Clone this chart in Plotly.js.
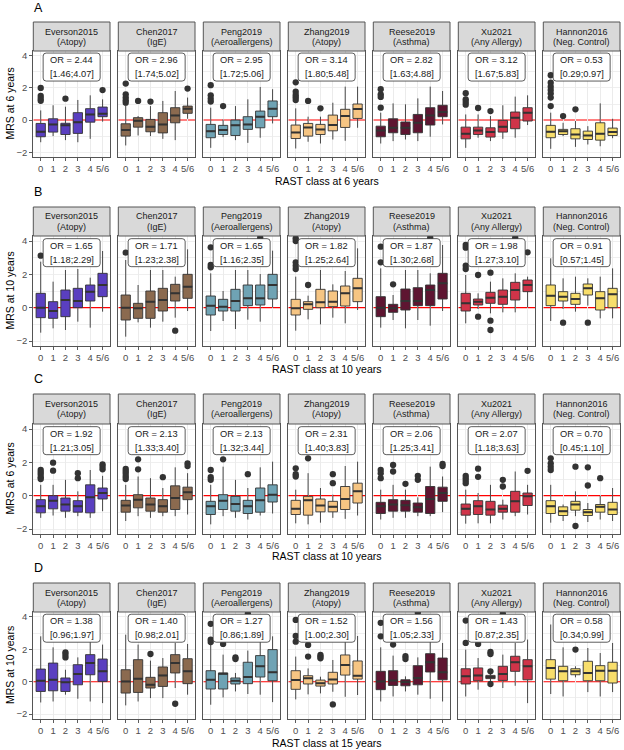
<!DOCTYPE html>
<html><head><meta charset="utf-8">
<script src="https://cdn.plot.ly/plotly-3.0.1.min.js"></script>
<style>html,body{margin:0;padding:0;background:#fff}</style>
</head><body><div id="chart" style="width:624px;height:750px"></div>
<script>
// ---------------- DATA ----------------
const categories = ['0','1','2','3','4','5/6'];
const studies = ['Everson2015','Chen2017','Peng2019','Zhang2019','Reese2019','Xu2021','Hannon2016'];
const phenotypes = ['(Atopy)','(IgE)','(Aeroallergens)','(Atopy)','(Asthma)','(Any Allergy)','(Neg. Control)'];
const rowLetters = ['A','B','C','D'];
const yTitles = ['MRS at 6 years','MRS at 10 years','MRS at 6 years','MRS at 10 years'];
const xTitles = ['RAST class at 6 years','RAST class at 10 years','RAST class at 10 years','RAST class at 15 years'];
const refLine = 0;

const orA = ['2.44','2.96','2.95','3.14','2.82','3.12','0.53'];
const ciA = ['[1.46;4.07]','[1.74;5.02]','[1.72;5.06]','[1.80;5.48]','[1.63;4.88]','[1.67;5.83]','[0.29;0.97]'];
const orB = ['1.65','1.71','1.65','1.82','1.87','1.98','0.91'];
const ciB = ['[1.18;2.29]','[1.23;2.38]','[1.16;2.35]','[1.25;2.64]','[1.30;2.68]','[1.27;3.10]','[0.57;1.45]'];
const orC = ['1.92','2.13','2.13','2.31','2.06','2.07','0.70'];
const ciC = ['[1.21;3.05]','[1.33;3.40]','[1.32;3.44]','[1.40;3.83]','[1.25;3.41]','[1.18;3.63]','[0.45;1.10]'];
const orD = ['1.38','1.40','1.27','1.52','1.56','1.43','0.58'];
const ciD = ['[0.96;1.97]','[0.98;2.01]','[0.86;1.89]','[1.00;2.30]','[1.05;2.33]','[0.87;2.35]','[0.34;0.99]'];

// Row A: MRS at 6 years vs RAST class at 6 years
const A_lo = [[-1.38,-1.0,-1.25,-1.38,-1.17,-0.1],[-1.58,-0.96,-1.0,-1.17,-1.25,0.08],[-1.73,-1.06,-1.25,-1.42,-1.1,-0.21],[-1.77,-1.35,-1.46,-1.21,-1.29,-0.48],[-1.46,-1.31,-1.21,-1.31,-1.04,-0.27],[-1.73,-1.1,-1.31,-1.17,-1.1,-0.31],[-1.79,-1.0,-1.67,-1.52,-1.63,-1.13]];
const A_q1 = [[-1.04,-0.75,-0.9,-0.83,-0.13,0.21],[-1.0,-0.44,-0.73,-0.8,-0.17,0.42],[-1.1,-0.9,-0.96,-0.58,-0.48,0.21],[-1.15,-1.0,-0.9,-0.67,-0.46,0.1],[-1.04,-0.79,-0.9,-0.79,-0.31,0.21],[-1.17,-0.9,-1.06,-0.75,-0.54,-0.06],[-1.1,-0.9,-1.17,-1.21,-1.25,-0.96]];
const A_med = [[-0.73,-0.27,-0.33,-0.13,0.35,0.4],[-0.62,-0.05,-0.42,-0.27,0.29,0.71],[-0.69,-0.62,-0.33,-0.27,0.21,0.71],[-0.77,-0.46,-0.58,-0.31,0.25,0.69],[-0.65,-0.48,-0.48,-0.17,0.29,0.5],[-0.85,-0.65,-0.75,-0.42,0.15,0.46],[-0.73,-0.69,-0.9,-0.96,-0.85,-0.75]];
const A_q3 = [[-0.21,0.08,-0.2,0.46,0.71,0.81],[-0.23,0.15,0.04,0.46,0.77,0.87],[-0.27,-0.33,0,0.21,0.56,1.19],[-0.31,-0.21,-0.27,0.31,0.67,1.0],[-0.38,0.08,-0.12,0.35,0.77,0.92],[-0.44,-0.44,-0.48,-0.02,0.5,0.77],[-0.33,-0.58,-0.54,-0.69,-0.17,-0.5]];
const A_hi = [[0.6,0.92,0.83,1.25,1.54,1.29],[0.92,0.25,0.87,1.19,1.81,1.4],[0.77,0.04,0.87,1.29,2.06,1.92],[0.73,0.21,0.21,1.08,2.08,2.08],[0.46,1.04,0.98,1.35,2.08,1.81],[0.35,0.35,0.25,0.92,1.46,1.54],[0.46,-0.17,-0.06,-0.38,1.04,0.08]];
const A_out = [
  [[0,2.0],[0,1.5],[0,1.33],[0,1.2],[2,1.33],[5,1.87]],
  [[0,2.27],[0,1.6],[0,1.4],[0,1.23],[0,1.08],[1,1.19],[2,1.15],[5,1.96]],
  [[0,2.17],[0,1.54],[0,1.33],[0,1.15],[1,0.87]],
  [[0,2.35],[0,1.77],[0,1.56],[0,1.42],[0,1.25],[1,1.19],[2,0.73]],
  [[0,1.92],[0,1.6],[0,1.44],[0,0.77]],
  [[0,1.67],[0,1.29],[0,1.13],[0,0.96],[1,0.75],[2,0.56]],
  [[0,2.79],[0,2.33],[0,2.08],[0,1.87],[0,1.65],[0,1.4],[0,0.87],[1,0.25],[2,0.67]]];

// Row B: MRS at 10 years vs RAST class at 10 years
const B_lo = [[-1.5,-1.24,-1.34,-0.84,-1.2,-0.24],[-1.74,-0.88,-1.2,-0.84,-0.6,-0.2],[-1.4,-0.8,-1.28,-0.72,-0.84,0],[-1.38,-0.7,-1.0,-0.6,-0.94,-0.14],[-1.2,-0.74,-1.24,-0.74,-1.08,-0.2],[-0.94,-0.08,-0.34,-0.28,-0.28,0],[-0.8,-0.08,-0.24,0.12,-0.64,-0.64]];
const B_q1 = [[-0.6,-0.64,-0.54,0,0.4,0.66],[-0.74,-0.64,-0.64,-0.2,0.4,0.56],[-0.44,-0.2,-0.2,0.12,0.16,0.52],[-0.44,-0.1,0,0.06,0.1,0.36],[-0.54,-0.28,-0.14,0.12,0.12,0.52],[-0.2,0.16,0.26,0.2,0.46,0.96],[0.12,0.4,0.2,0.76,-0.14,0]];
const B_med = [[0,-0.2,0.46,0.4,0.96,1.36],[0,-0.04,0.36,0.46,0.86,1.26],[0.12,0.06,0.4,0.56,0.56,1.36],[-0.04,0.2,0.32,0.36,0.86,1.16],[0,-0.04,0.4,0.4,1.06,1.46],[0.26,0.36,0.6,0.66,1.06,1.36],[0.72,0.66,0.52,1.16,0.56,0.8]];
const B_q3 = [[0.86,0.36,1.06,1.16,1.36,2.06],[0.76,0.26,1.0,1.16,1.4,2.0],[0.7,0.5,1.1,1.36,1.36,2.0],[0.5,0.36,1.1,1.0,1.3,1.76],[0.66,0.2,1.12,1.2,1.36,2.06],[0.86,0.52,0.92,1.06,1.52,1.66],[1.36,0.96,0.86,1.42,0.96,1.16]];
const B_hi = [[2.76,1.56,2.26,2.32,1.8,3.4],[2.86,1.36,2.26,2.26,1.86,3.5],[2.06,1.0,2.26,2.26,2.02,3.42],[1.86,0.72,2.26,1.4,2.2,3.56],[2.36,0.76,2.26,2.26,2.06,3.76],[1.96,0.86,1.56,1.76,2.06,1.86],[2.96,1.76,1.86,1.76,1.86,2.36]];
const B_out = [
  [[0,3.12]],
  [[0,3.3],[4,-1.38]],
  [[0,3.62],[0,2.56],[0,2.42],[4,4.2]],
  [[0,4.16],[0,4.0],[0,2.72],[0,2.52],[0,2.32],[1,1.36]],
  [[0,3.66],[0,2.72],[1,1.4],[4,4.2]],
  [[0,3.76],[0,3.6],[0,2.52],[0,2.32],[1,1.96],[1,-0.54],[2,2.1],[2,-0.78],[2,-1.34],[4,4.2],[5,3.32]],
  [[1,-0.9],[3,-0.9]]];

// Row C: MRS at 6 years vs RAST class at 10 years
const C_lo = [[-1.33,-1.19,-1.33,-1.23,-1.33,-0.93],[-1.52,-1.23,-1.33,-1.23,-1.23,-1.13],[-1.72,-1.23,-1.33,-1.43,-1.19,-1.07],[-1.66,-1.72,-1.62,-1.33,-1.39,-1.19],[-1.43,-1.33,-1.33,-1.23,-1.23,-0.99],[-1.68,-1.66,-1.66,-1.43,-1.23,-1.13],[-1.62,-1.52,-1.23,-1.58,-1.43,-1.52]];
const C_q1 = [[-1.03,-0.79,-0.93,-0.99,-1.03,-0.2],[-0.99,-0.73,-0.93,-0.99,-0.83,-0.24],[-1.13,-0.83,-0.93,-1.07,-0.99,-0.38],[-1.13,-1.17,-0.97,-0.97,-0.83,-0.44],[-1.07,-0.93,-0.93,-0.99,-1.07,-0.34],[-1.17,-1.13,-1.17,-0.99,-0.99,-0.59],[-1.07,-1.19,-0.87,-1.19,-0.99,-1.13]];
const C_med = [[-0.63,-0.3,-0.53,-0.63,-0.1,0.16],[-0.59,-0.24,-0.53,-0.63,-0.14,0.2],[-0.63,-0.3,-0.5,-0.63,-0.28,0.06],[-0.79,-0.28,-0.59,-0.67,-0.2,0.26],[-0.63,-0.53,-0.57,-0.69,-0.2,0.16],[-0.79,-0.63,-0.83,-0.79,-0.34,-0.04],[-0.63,-0.93,-0.53,-0.99,-0.67,-0.83]];
const C_q3 = [[-0.24,0,-0.14,-0.3,0.65,0.46],[-0.28,0.06,-0.14,-0.24,0.59,0.51],[-0.34,0.06,-0.04,-0.28,0.46,0.65],[-0.28,-0.04,-0.2,-0.34,0.55,0.75],[-0.4,-0.24,-0.28,-0.44,0.55,0.51],[-0.5,-0.3,-0.34,-0.57,0.26,0.16],[-0.3,-0.67,-0.34,-0.83,-0.53,-0.4]];
const C_hi = [[0.65,0.65,0.95,0.26,1.54,1.19],[0.65,1.15,1.05,0.46,1.7,1.35],[0.65,1.74,0.95,0.46,1.7,2.04],[0.36,1.35,0.46,0.06,1.78,2.04],[0.36,0.65,0.36,-0.1,1.74,1.15],[0.36,0.16,0.65,-0.24,1.45,0.65],[0.65,-0.53,0.26,-0.44,0,0.46]];
const C_out = [
  [[0,1.54],[0,1.39],[0,1.25],[0,1.1],[0,1.0],[1,1.98],[1,1.5],[3,1.35],[3,1.05],[5,1.88],[5,1.74],[5,1.58]],
  [[0,1.6],[0,1.45],[0,1.31],[0,1.15],[0,1.0],[1,2.18],[1,1.58],[3,1.11],[5,1.94],[5,1.78]],
  [[0,1.54],[0,1.11],[0,0.95],[1,2.18],[3,1.29]],
  [[0,1.64],[0,1.29],[0,1.15],[1,2.24],[3,1.29],[3,0.75]],
  [[0,1.54],[0,1.35],[0,1.05],[1,1.84],[1,1.45],[2,0.71],[3,1.19],[3,0.95],[5,1.9],[5,1.78]],
  [[0,1.19],[0,1.05],[0,0.89],[0,0.75],[1,1.62],[1,1.13],[3,0.95],[3,0.55],[5,1.49]],
  [[0,2.24],[0,1.94],[0,1.74],[0,1.54],[2,1.74],[2,-1.82],[3,1.7],[3,0.61],[4,1.05]]];

// Row D: MRS at 10 years vs RAST class at 15 years
const D_lo = [[-1.28,-1.22,-0.8,-1.05,-1.22,-1.32],[-1.46,-1.22,-1.01,-1.01,-0.39,-0.8],[-1.42,-0.97,-0.6,-0.76,-0.8,-1.26],[-1.09,-0.78,-0.72,-0.62,-0.93,-0.82],[-1.22,-0.91,-0.6,-0.8,-1.05,-1.22],[-0.91,-0.49,0.02,-0.39,-0.25,-1.32],[-0.76,-0.91,0.27,-0.64,-0.91,-0.64]];
const D_q1 = [[-0.6,-0.56,-0.6,-0.19,0.43,0.02],[-0.7,-0.66,-0.39,-0.29,0.54,-0.12],[-0.45,-0.45,-0.14,-0.12,0.29,0.06],[-0.47,-0.14,-0.27,-0.14,0.41,0.16],[-0.49,-0.23,-0.25,-0.19,0.6,0.12],[-0.14,0.06,0.19,0.08,0.64,0.12],[0.16,0.06,0.43,0.06,0.06,-0.08]];
const D_med = [[0.06,0.12,-0.04,0.47,1.15,0.64],[0.02,0.19,-0.19,0.39,1.15,0.64],[0.12,0.49,0.06,0.29,0.95,0.58],[0.1,0.21,-0.1,0.14,1.03,0.37],[0.02,0.08,-0.02,0.23,1.2,0.58],[0.33,0.39,0.29,0.47,1.2,0.95],[0.85,0.64,0.64,0.54,0.68,0.68]];
const D_q3 = [[0.78,1.15,0.23,1.05,1.67,1.4],[0.74,1.36,0.27,0.91,1.67,1.42],[0.68,0.54,0.23,1.2,1.61,1.98],[0.68,0.37,0.1,0.58,1.65,1.28],[0.64,0.68,0.12,0.99,1.73,1.46],[0.8,0.85,0.39,0.95,1.57,1.36],[1.36,0.95,0.8,1.26,0.99,1.2]];
const D_hi = [[2.8,2.12,0.74,1.5,2.45,2.29],[2.9,2.29,1.3,1.46,2.39,2.33],[2.39,1.67,0.54,1.92,2.6,2.8],[1.55,0.82,0.31,1.34,2.78,2.82],[2.12,1.61,0.33,1.5,2.6,2.39],[1.98,1.46,0.54,1.67,2.39,2.6],[3.53,2.12,0.95,2.08,1.77,2.39]];
const D_out = [
  [[2,1.81],[2,1.67],[2,1.5]],
  [[2,1.71],[4,-1.36]],
  [[0,3.57],[0,2.6],[0,2.45],[1,2.33],[2,1.5],[2,1.4],[3,4.19]],
  [[0,3.81],[0,2.82],[0,2.47],[1,2.68],[1,2.27],[1,1.55],[2,1.65],[2,1.55],[2,1.44],[3,-1.4]],
  [[0,3.63],[0,2.8],[1,2.29],[2,1.57],[2,1.4],[3,4.25]],
  [[0,3.77],[0,2.39],[1,2.33],[2,1.84],[2,1.71],[2,0.64],[2,-0.14],[3,4.19]],
  [[2,1.98]]];

// ---------------- STYLE / GEOMETRY ----------------
const studyColors = ['#5A3FC0','#8B6A4F','#6FA3B4','#F6C583','#5E1531','#D03449','#F8DE6B'];
const W = 624, H = 750;
const FONT = 'Liberation Sans, Arial, sans-serif';
const panelLeft0 = 33.3, panelStep = 85.0, panelW = 76.7;
const rowGeom = [
  {stripTop: 22,  plotTop: 51,  plotBot: 157, line1: 32,    line2: 42,    letterY: 8,   titleY: 180.5},
  {stripTop: 207, plotTop: 236, plotBot: 346, line1: 216.5, line2: 226.5, letterY: 192, titleY: 368.5},
  {stripTop: 394, plotTop: 424, plotBot: 534, line1: 404.3, line2: 414.3, letterY: 379, titleY: 556},
  {stripTop: 583, plotTop: 612, plotBot: 719, line1: 592.7, line2: 603.3, letterY: 568, titleY: 742.5}
];
const X = px => px / W;
const Y = py => 1 - py / H;

const rows = [
  {lo: A_lo, q1: A_q1, med: A_med, q3: A_q3, hi: A_hi, out: A_out, or: orA, ci: ciA},
  {lo: B_lo, q1: B_q1, med: B_med, q3: B_q3, hi: B_hi, out: B_out, or: orB, ci: ciB},
  {lo: C_lo, q1: C_q1, med: C_med, q3: C_q3, hi: C_hi, out: C_out, or: orC, ci: ciC},
  {lo: D_lo, q1: D_q1, med: D_med, q3: D_q3, hi: D_hi, out: D_out, or: orD, ci: ciD}
];

const traces = [];
const layout = {
  width: W, height: H, autosize: false,
  margin: {l: 0, r: 0, t: 0, b: 0},
  paper_bgcolor: '#fff', plot_bgcolor: '#fff',
  showlegend: false,
  font: {family: FONT, size: 9.5, color: '#4D4D4D'},
  shapes: [], annotations: []
};
const boxW = 0.75;
const idx = categories.map((_, i) => i);
const labelPath = (() => {
  const w = 28.5, h = 14, r = 3;
  return `M ${-w+r},${-h} L ${w-r},${-h} Q ${w},${-h} ${w},${-h+r} L ${w},${h-r} Q ${w},${h} ${w-r},${h} L ${-w+r},${h} Q ${-w},${h} ${-w},${h-r} L ${-w},${-h+r} Q ${-w},${-h} ${-w+r},${-h} Z`;
})();

rows.forEach((rd, r) => {
  const g = rowGeom[r];
  studies.forEach((st, c) => {
    const k = r * 7 + c + 1;
    const xa = 'x' + k, ya = 'y' + k;
    const L = panelLeft0 + panelStep * c, R = L + panelW;
    layout['xaxis' + k] = {
      domain: [X(L), X(R)], anchor: ya, range: [-0.6, 5.6],
      tickmode: 'array', tickvals: idx, ticktext: categories,
      tickfont: {size: 9.5, color: '#4D4D4D', family: FONT},
      ticks: 'outside', ticklen: 2.5, tickwidth: 0.8, tickcolor: '#333',
      showgrid: true, gridcolor: '#EBEBEB', gridwidth: 1, zeroline: false,
      showline: true, mirror: true, linecolor: '#555', linewidth: 1, fixedrange: true
    };
    // major y gridlines except at 0 (the red reference line sits there), plus minor ones
    layout['yaxis' + k] = {
      domain: [Y(g.plotBot), Y(g.plotTop)], anchor: xa, range: [-2.3, 4.3],
      tickmode: 'linear', tick0: 0, dtick: 2,
      showticklabels: c === 0, ticks: c === 0 ? 'outside' : '', ticklen: 3, tickwidth: 0.8, tickcolor: '#333',
      tickfont: {size: 9.5, color: '#4D4D4D', family: FONT},
      showgrid: false, zeroline: false,
      minor: {tickmode: 'array', tickvals: [-2, -1, 1, 2, 3, 4], showgrid: true, gridcolor: '#EDEDED', gridwidth: 0.9, ticks: ''},
      showline: true, mirror: true, linecolor: '#555', linewidth: 1, fixedrange: true
    };
    // red reference line under the boxes
    layout.shapes.push({type: 'line', xref: xa, yref: ya, x0: -0.6, x1: 5.6, y0: refLine, y1: refLine,
      line: {color: '#FF0000', width: 1.1}, layer: 'below'});
    // boxes
    traces.push({
      type: 'box', orientation: 'v', x: idx,
      q1: rd.q1[c], median: rd.med[c], q3: rd.q3[c],
      lowerfence: rd.lo[c], upperfence: rd.hi[c],
      width: boxW, whiskerwidth: 0, boxpoints: false,
      fillcolor: studyColors[c], line: {color: '#333333', width: 0.9},
      xaxis: xa, yaxis: ya, hoverinfo: 'skip'
    });
    // thick median bars
    const mx = [], my = [];
    rd.med[c].forEach((m, i) => { mx.push(i - boxW / 2, i + boxW / 2, null); my.push(m, m, null); });
    traces.push({type: 'scatter', mode: 'lines', x: mx, y: my, line: {color: '#333333', width: 2},
      xaxis: xa, yaxis: ya, hoverinfo: 'skip'});
    // outliers
    traces.push({type: 'scatter', mode: 'markers',
      x: rd.out[c].map(p => p[0]), y: rd.out[c].map(p => p[1]),
      marker: {size: 6.3, color: '#333333'}, xaxis: xa, yaxis: ya, hoverinfo: 'skip'});
    // strip
    layout.shapes.push({type: 'rect', xref: 'paper', yref: 'paper',
      x0: X(L), x1: X(R), y0: Y(g.plotTop), y1: Y(g.stripTop),
      fillcolor: '#D9D9D9', line: {color: '#555', width: 1}, layer: 'above'});
    layout.annotations.push({xref: 'paper', yref: 'paper', x: X((L + R) / 2), y: Y(g.line1),
      text: st, showarrow: false, xanchor: 'center', yanchor: 'middle',
      font: {size: 9, color: '#1A1A1A', family: FONT}});
    layout.annotations.push({xref: 'paper', yref: 'paper', x: X((L + R) / 2), y: Y(g.line2),
      text: phenotypes[c], showarrow: false, xanchor: 'center', yanchor: 'middle',
      font: {size: 9, color: '#1A1A1A', family: FONT}});
    // OR label box
    layout.shapes.push({type: 'path', xref: xa, yref: ya, xsizemode: 'pixel', ysizemode: 'pixel',
      xanchor: 2.5, yanchor: 3.3, path: labelPath,
      fillcolor: '#FFFFFF', line: {color: '#333', width: 0.8}, layer: 'above'});
    layout.annotations.push({xref: xa, yref: ya, x: 2.5, y: 3.3, yshift: 7,
      text: 'OR = ' + rd.or[c], showarrow: false, xanchor: 'center', yanchor: 'middle',
      font: {size: 9.3, color: '#1A1A1A', family: FONT}});
    layout.annotations.push({xref: xa, yref: ya, x: 2.5, y: 3.3, yshift: -7,
      text: rd.ci[c], showarrow: false, xanchor: 'center', yanchor: 'middle',
      font: {size: 9.3, color: '#1A1A1A', family: FONT}});
  });
  layout.annotations.push({xref: 'paper', yref: 'paper', x: X(38), y: Y(g.letterY),
    text: rowLetters[r], showarrow: false, xanchor: 'center', yanchor: 'middle',
    font: {size: 12.5, color: '#000', family: FONT}});
  layout.annotations.push({xref: 'paper', yref: 'paper', x: X(9.5), y: Y((g.plotTop + g.plotBot) / 2),
    text: yTitles[r], showarrow: false, textangle: -90, xanchor: 'center', yanchor: 'middle',
    font: {size: 10.5, color: '#000', family: FONT}});
  layout.annotations.push({xref: 'paper', yref: 'paper', x: X(326.7), y: Y(g.titleY),
    text: xTitles[r], showarrow: false, xanchor: 'center', yanchor: 'middle',
    font: {size: 10.5, color: '#000', family: FONT}});
});

Plotly.newPlot('chart', traces, layout, {staticPlot: true, displayModeBar: false});
</script>
</body></html>
